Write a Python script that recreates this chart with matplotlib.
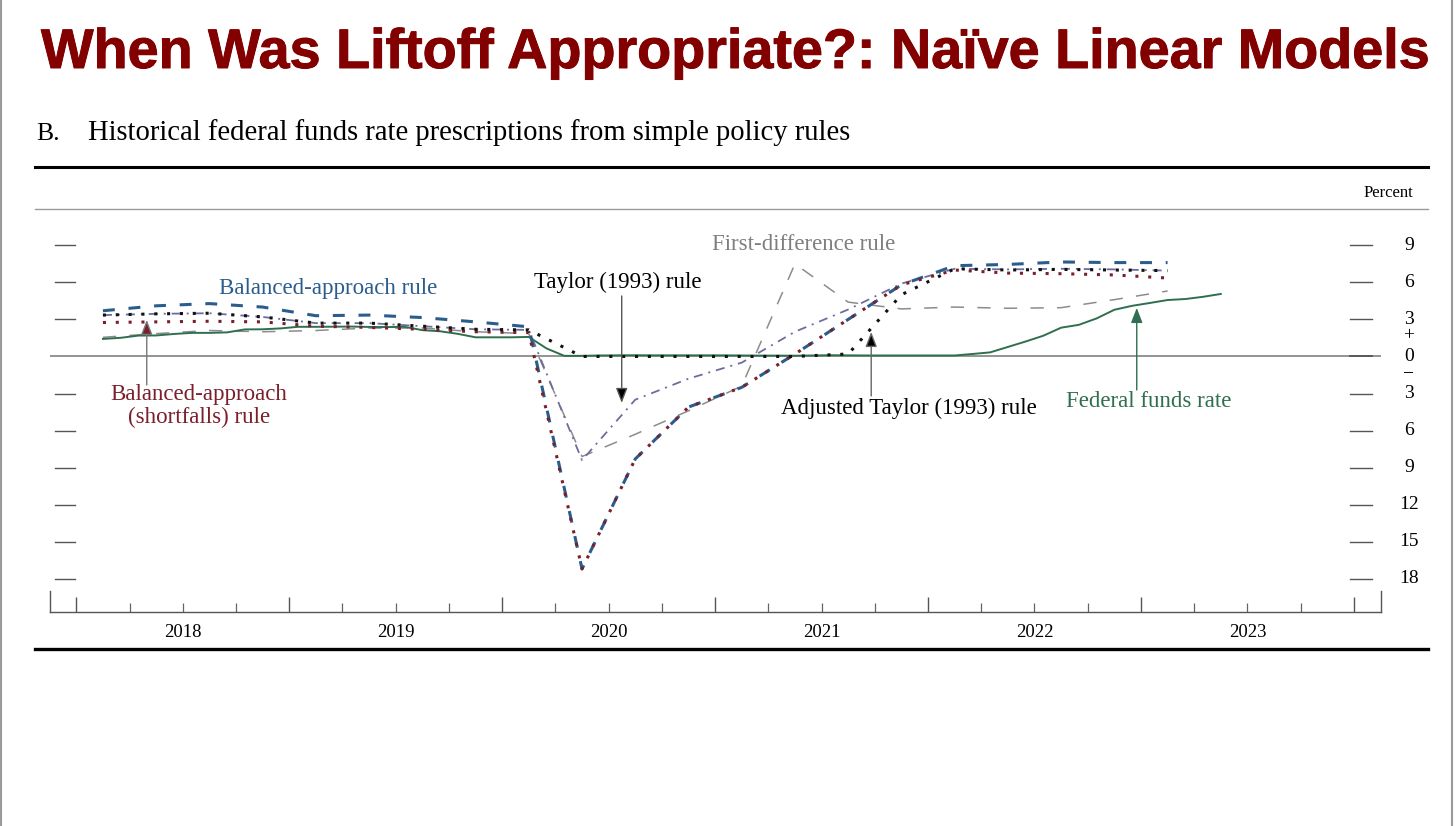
import matplotlib
matplotlib.use('Agg')
import matplotlib.pyplot as plt
import matplotlib.patheffects as pe
from matplotlib.lines import Line2D
from matplotlib.transforms import blended_transform_factory

# ---------------- data ----------------
quarters = ["2018Q1", "2018Q2", "2018Q3", "2018Q4",
            "2019Q1", "2019Q2", "2019Q3", "2019Q4",
            "2020Q1", "2020Q2", "2020Q3", "2020Q4",
            "2021Q1", "2021Q2", "2021Q3", "2021Q4",
            "2022Q1", "2022Q2", "2022Q3", "2022Q4",
            "2023Q1"]
balanced = [3.7, 4.1, 4.28, 4.0, 3.3, 3.35, 3.15, 2.8, 2.4,
            -17.2, -8.3, -4.1, -2.5, 0.2, 3.0, 5.8,
            7.35, 7.45, 7.65, 7.6, 7.6]
shortfalls = [2.75, 2.8, 2.85, 2.8, 2.45, 2.35, 2.2, 2.0, 1.93,
              -17.2, -8.3, -4.1, -2.5, 0.2, 3.0, 5.8,
              7.0, 6.75, 6.7, 6.6, 6.35]
taylor = [3.35, 3.45, 3.5, 3.2, 2.7, 2.7, 2.45, 2.2, 2.15,
          -8.4, -3.5, -1.8, -0.5, 2.0, 3.8, 5.9,
          7.1, 7.05, 7.1, 7.05, 6.95]
adjusted_taylor = [3.35, 3.45, 3.5, 3.2, 2.7, 2.7, 2.45, 2.2, 2.15,
                   0.0, 0.0, 0.0, 0.0, 0.0, 0.2, 5.0,
                   7.1, 7.0, 7.05, 7.0, 6.95]
first_difference = [1.55, 1.85, 2.1, 2.0, 2.1, 2.3, 2.3, 2.0, 1.85,
                    -8.1, -6.3, -4.4, -2.4, 7.5, 4.4, 3.85,
                    4.0, 3.9, 3.95, 4.6, 5.3]

# monthly effective federal funds rate, Feb 2018 - May 2023
ffr_start = (2018, 2)
ffr = [1.42, 1.51, 1.69, 1.70, 1.82, 1.91, 1.91, 1.95, 2.19, 2.20, 2.27,
       2.40, 2.40, 2.41, 2.42, 2.39, 2.38, 2.40, 2.13, 2.04, 1.83, 1.55, 1.55,
       1.55, 1.58, 0.65, 0.05, 0.05, 0.08, 0.09, 0.10, 0.09, 0.09, 0.09, 0.09,
       0.09, 0.08, 0.07, 0.07, 0.06, 0.08, 0.10, 0.09, 0.08, 0.08, 0.08, 0.08,
       0.08, 0.08, 0.20, 0.33, 0.77, 1.21, 1.68, 2.33, 2.56, 3.08, 3.78, 4.10,
       4.33, 4.57, 4.65, 4.83, 5.06]

years = [2018, 2019, 2020, 2021, 2022, 2023]
ytick_vals = [9, 6, 3, 0, -3, -6, -9, -12, -15, -18]
ytick_labels = ["9", "6", "3", "0", "3", "6", "9", "12", "15", "18"]

# ---------------- helpers ----------------
def q_to_x(q):
    y, n = int(q[:4]), int(q[-1])
    return y + (n - 1) * 0.25 + 0.125

qx = [q_to_x(q) for q in quarters]
fx = []
yy, mm = ffr_start
for _ in ffr:
    fx.append(yy + (mm - 0.5) / 12.0)
    mm += 1
    if mm > 12:
        mm = 1
        yy += 1

W, H = 1456, 826
fig = plt.figure(figsize=(W / 100, H / 100), dpi=100)
fig.patch.set_facecolor('white')
SERIF = ['Liberation Serif', 'DejaVu Serif']

def fy(ypx):
    return 1 - ypx / H

def fit_text(x_px, y_px, s, target_w, **kw):
    t = fig.text(x_px / W, fy(y_px), s, **kw)
    r = fig.canvas.get_renderer()
    w = t.get_window_extent(r).width
    t.set_fontsize(t.get_fontsize() * target_w / w)
    return t

# ---------------- header ----------------
TITLE_C = '#820000'
tt = fit_text(41, 68, "When Was Liftoff Appropriate?: Naïve Linear Models", 1387,
              fontsize=40, family=['Liberation Sans', 'DejaVu Sans'], weight='bold',
              color=TITLE_C, va='baseline', ha='left')
tt.set_path_effects([pe.withStroke(linewidth=0.7, foreground=TITLE_C)])
sub_fs = 18.5
fig.text(36 / W, fy(140), "B.", fontsize=sub_fs, family=SERIF, va='baseline')
fit_text(88, 140, "Historical federal funds rate prescriptions from simple policy rules",
         765, fontsize=sub_fs, family=SERIF, va='baseline', ha='left')

def fig_hline(ypx, x0, x1, lw, color):
    fig.add_artist(Line2D([x0 / W, x1 / W], [fy(ypx), fy(ypx)],
                          transform=fig.transFigure, lw=lw, color=color))

fig_hline(167, 35, 1428, 2.2, 'black')
fig_hline(208.5, 35, 1428, 1.0, '#9a9a9a')
fig_hline(649, 35, 1428, 2.4, 'black')
fig.text(1413 / W, fy(197), "Percent", fontsize=12, family=SERIF,
         ha='right', va='baseline')
# page edges
fig.add_artist(Line2D([1 / W, 1 / W], [0, 1], transform=fig.transFigure,
                      lw=1.5, color='#9a9a9a'))
fig.add_artist(Line2D([1452 / W, 1452 / W], [0, 1], transform=fig.transFigure,
                      lw=1.5, color='#9a9a9a'))

# ---------------- axes ----------------
ax_left, ax_right = 49.7, 1380.5
ax_top, ax_bottom = 220.6, 612
ax = fig.add_axes([ax_left / W, fy(ax_bottom), (ax_right - ax_left) / W,
                   (ax_bottom - ax_top) / H])
ax.set_xlim(2017.875, 2024.125)
ax.set_ylim(-20.69, 11.0)
ax.set_facecolor('none')
for s in ['top', 'left', 'right']:
    ax.spines[s].set_visible(False)
ax.spines['bottom'].set_color('#555555')
ax.spines['bottom'].set_linewidth(1.0)

ax.set_xticks(list(range(2018, 2025)))
ax.set_xticks([y + q for y in range(2017, 2025) for q in (0.25, 0.5, 0.75)
               if 2017.875 < y + q < 2024.125], minor=True)
ax.tick_params(axis='x', which='major', direction='in', length=10.8,
               width=1.0, color='#555555', labelbottom=False)
ax.tick_params(axis='x', which='minor', direction='in', length=6.5,
               width=0.9, color='#666666')
ax.set_yticks([])
xtr = blended_transform_factory(ax.transData, ax.transAxes)
for yv in years:
    ax.text(yv + 0.5, -0.052, str(yv), transform=xtr,
            ha='center', va='center', fontsize=13.5, family=SERIF)
# end caps of the x axis
hcap = 21 / (ax_bottom - ax_top)
for xe in (0, 1):
    ax.plot([xe, xe], [0, hcap], transform=ax.transAxes, color='#555555',
            lw=1.0, clip_on=False)

# y ticks and labels
btr = blended_transform_factory(ax.transAxes, ax.transData)
axw = ax_right - ax_left
for v, lab in zip(ytick_vals, ytick_labels):
    if v != 0:
        ax.plot([5 / axw, 25 / axw], [v, v], transform=btr, color='#555555', lw=1.0)
    ax.plot([(1350 - ax_left) / axw, (1372 - ax_left) / axw], [v, v],
            transform=btr, color='#555555', lw=1.0 if v != 0 else 1.3)
    ax.text((1409 - ax_left) / axw, v, lab, transform=btr, ha='center',
            va='center', fontsize=14, family=SERIF, clip_on=False)
ax.text((1409 - ax_left) / axw, 1.65, "+", transform=btr, ha='center',
        va='center', fontsize=14, family=SERIF)
ax.text((1409 - ax_left) / axw, -1.5, "\u2212", transform=btr, ha='center',
        va='center', fontsize=14, family=SERIF)
ax.axhline(0, color='#777777', lw=1.1, zorder=1)

# ---------------- series ----------------
C_BLUE = '#2b5d8c'
C_RED = '#7a1f2b'
C_TAYLOR = '#6d6d9c'
C_GRAY = '#8c8c8c'
C_GREEN = '#2f6f50'

l, = ax.plot(qx, first_difference, color=C_GRAY, lw=1.1, zorder=2)
l.set_dashes((8.7, 8.7))
ax.plot(fx, ffr, color=C_GREEN, lw=1.4, zorder=3)
l, = ax.plot(qx, taylor, color=C_TAYLOR, lw=1.3, zorder=4)
l.set_dashes((5.0, 3.3, 1.1, 3.3))
l, = ax.plot(qx, balanced, color=C_BLUE, lw=2.2, zorder=5, dash_capstyle='butt')
l.set_dashes((3.9, 4.5))
l, = ax.plot(qx, shortfalls, color=C_RED, lw=2.2, zorder=6, dash_capstyle='butt')
l.set_dashes((1.0, 3.2))
l, = ax.plot(qx, adjusted_taylor, color='#111111', lw=2.2, zorder=7, dash_capstyle='butt')
l.set_dashes((1.0, 3.2))

# ---------------- annotations ----------------
def px2x(p):
    return 2018 + (p - 76.7) / 212.5

def py2v(p):
    return (356.5 - p) / 12.35

AFS = 16.5
ax.text(px2x(328), py2v(289), "Balanced-approach rule", color=C_BLUE,
        fontsize=AFS, family=SERIF, ha='center', va='center')
ax.text(px2x(617), py2v(282), "Taylor (1993) rule", color='black',
        fontsize=AFS, family=SERIF, ha='center', va='center')
ax.text(px2x(803), py2v(245), "First-difference rule", color='#7f7f7f',
        fontsize=AFS, family=SERIF, ha='center', va='center')
ax.text(px2x(199), py2v(406), "Balanced-approach\n(shortfalls) rule", color=C_RED,
        fontsize=AFS, family=SERIF, ha='center', va='center', linespacing=1.15)
ax.text(px2x(908), py2v(408), "Adjusted Taylor (1993) rule", color='black',
        fontsize=AFS, family=SERIF, ha='center', va='center')
ax.text(px2x(1147), py2v(402), "Federal funds rate", color=C_GREEN,
        fontsize=AFS, family=SERIF, ha='center', va='center')

def arrow(xp, y0p, y1p, line_c, head_c):
    ax.annotate("", xy=(px2x(xp), py2v(y1p)), xytext=(px2x(xp), py2v(y0p)),
                arrowprops=dict(arrowstyle='-|>,head_length=0.9,head_width=0.35',
                                ec=line_c, fc=head_c, lw=1.0,
                                shrinkA=0, shrinkB=0), zorder=8)

arrow(147, 385, 320, '#777777', C_RED)
arrow(621, 296, 403, '#555555', 'black')
arrow(870, 396, 332, '#666666', 'black')
arrow(1135, 390, 308, C_GREEN, C_GREEN)

fig.savefig('out.png', dpi=100, facecolor='white')
